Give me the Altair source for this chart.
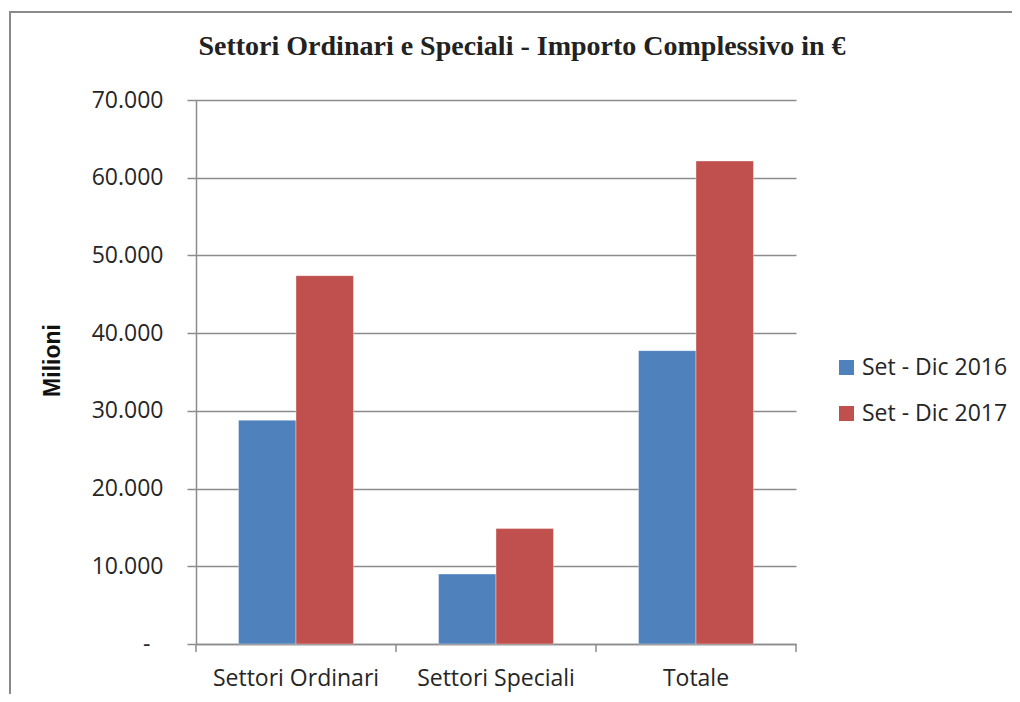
import altair as alt
import pandas as pd

categories = ["Settori Ordinari", "Settori Speciali", "Totale"]
series = ["Set - Dic 2016", "Set - Dic 2017"]
values_2016 = [28800, 9000, 37750]
values_2017 = [47400, 14850, 62150]
colors = ["#4F81BD", "#C0504D"]
y_ticks = [0, 10000, 20000, 30000, 40000, 50000, 60000, 70000]

rows = []
for c, a, b in zip(categories, values_2016, values_2017):
    rows.append({"cat": c, "serie": series[0], "val": a})
    rows.append({"cat": c, "serie": series[1], "val": b})
df = pd.DataFrame(rows)

W, H = 600, 544
GRID = "#8c8c8c"
TXT = "#262626"
FONT = "Open Sans"

bars = alt.Chart(df).mark_bar(stroke="white", strokeWidth=0.6, strokeOpacity=0.6).encode(
    x=alt.X("cat:N", sort=categories, title=None,
            scale=alt.Scale(paddingInner=0, paddingOuter=0),
            axis=alt.Axis(labelAngle=0, ticks=False, domainColor=GRID, domainWidth=1.5,
                          labelFont=FONT, labelFontSize=23, labelColor=TXT, labelPadding=23,
                          grid=False)),
    xOffset=alt.XOffset("serie:N", sort=series,
                        scale=alt.Scale(paddingInner=0, paddingOuter=0.74)),
    y=alt.Y("val:Q", title="Milioni",
            scale=alt.Scale(domain=[0, 70000], nice=False),
            axis=alt.Axis(values=y_ticks, format=",.0f",
                          labelExpr="datum.value == 0 ? '-' : replace(datum.label, ',', '.')",
                          labelFont=FONT, labelFontSize=23, labelColor=TXT,
                          labelPadding={"condition": {"test": "datum.value === 0", "value": 37}, "value": 24},
                          tickSize=9, tickColor=GRID, tickWidth=1.5,
                          domainColor=GRID, domainWidth=1.5,
                          gridColor=GRID, gridWidth=1.5,
                          titleFont="Liberation Sans", titleFontSize=23, titleFontWeight="bold",
                          titleColor="#111", titleAngle=-90, titleX=-144, titleY=260,
                          titleAlign="center", titleBaseline="middle")),
    color=alt.Color("serie:N", sort=series, title=None,
                    scale=alt.Scale(domain=series, range=colors),
                    legend=alt.Legend(orient="none", legendX=639, legendY=256,
                                      symbolType="square", symbolSize=225,
                                      symbolStrokeWidth=0, labelFont=FONT,
                                      labelFontSize=23, labelColor=TXT,
                                      rowPadding=22, labelOffset=4)),
)

tick_df = pd.DataFrame({"pos": list(range(len(categories) + 1))})
ticks = alt.Chart(tick_df).mark_rule(color=GRID, strokeWidth=1.5).encode(
    x=alt.X("pos:Q", axis=None, scale=alt.Scale(domain=[0, len(categories)], nice=False)),
    y=alt.value(H),
    y2=alt.value(H + 8),
)

frame = alt.Chart(alt.Data(values=[{"k": 1}])).mark_rect(
    fill=None, stroke="#8a8a8a", strokeWidth=2
).encode(
    x=alt.value(-186), x2=alt.value(1100),
    y=alt.value(-88), y2=alt.value(700),
)

chart = alt.layer(frame, bars, ticks).resolve_scale(x="independent").properties(
    width=W, height=H,
    view=alt.ViewBackground(stroke="transparent", strokeWidth=0),
    autosize=alt.AutoSizeParams(type="none"),
    padding={"left": 188, "top": 92, "right": 216, "bottom": 50},
    title=alt.TitleParams(
        "Settori Ordinari e Speciali - Importo Complessivo in €",
        font="Liberation Serif", fontSize=28, fontWeight="bold", color="#222",
        anchor="middle", dx=26, offset=-72, baseline="alphabetic",
    ),
).configure_view(strokeWidth=0, stroke="transparent").configure(background="white")

chart.save("out.html", embed_options={"renderer": "svg", "actions": False})
